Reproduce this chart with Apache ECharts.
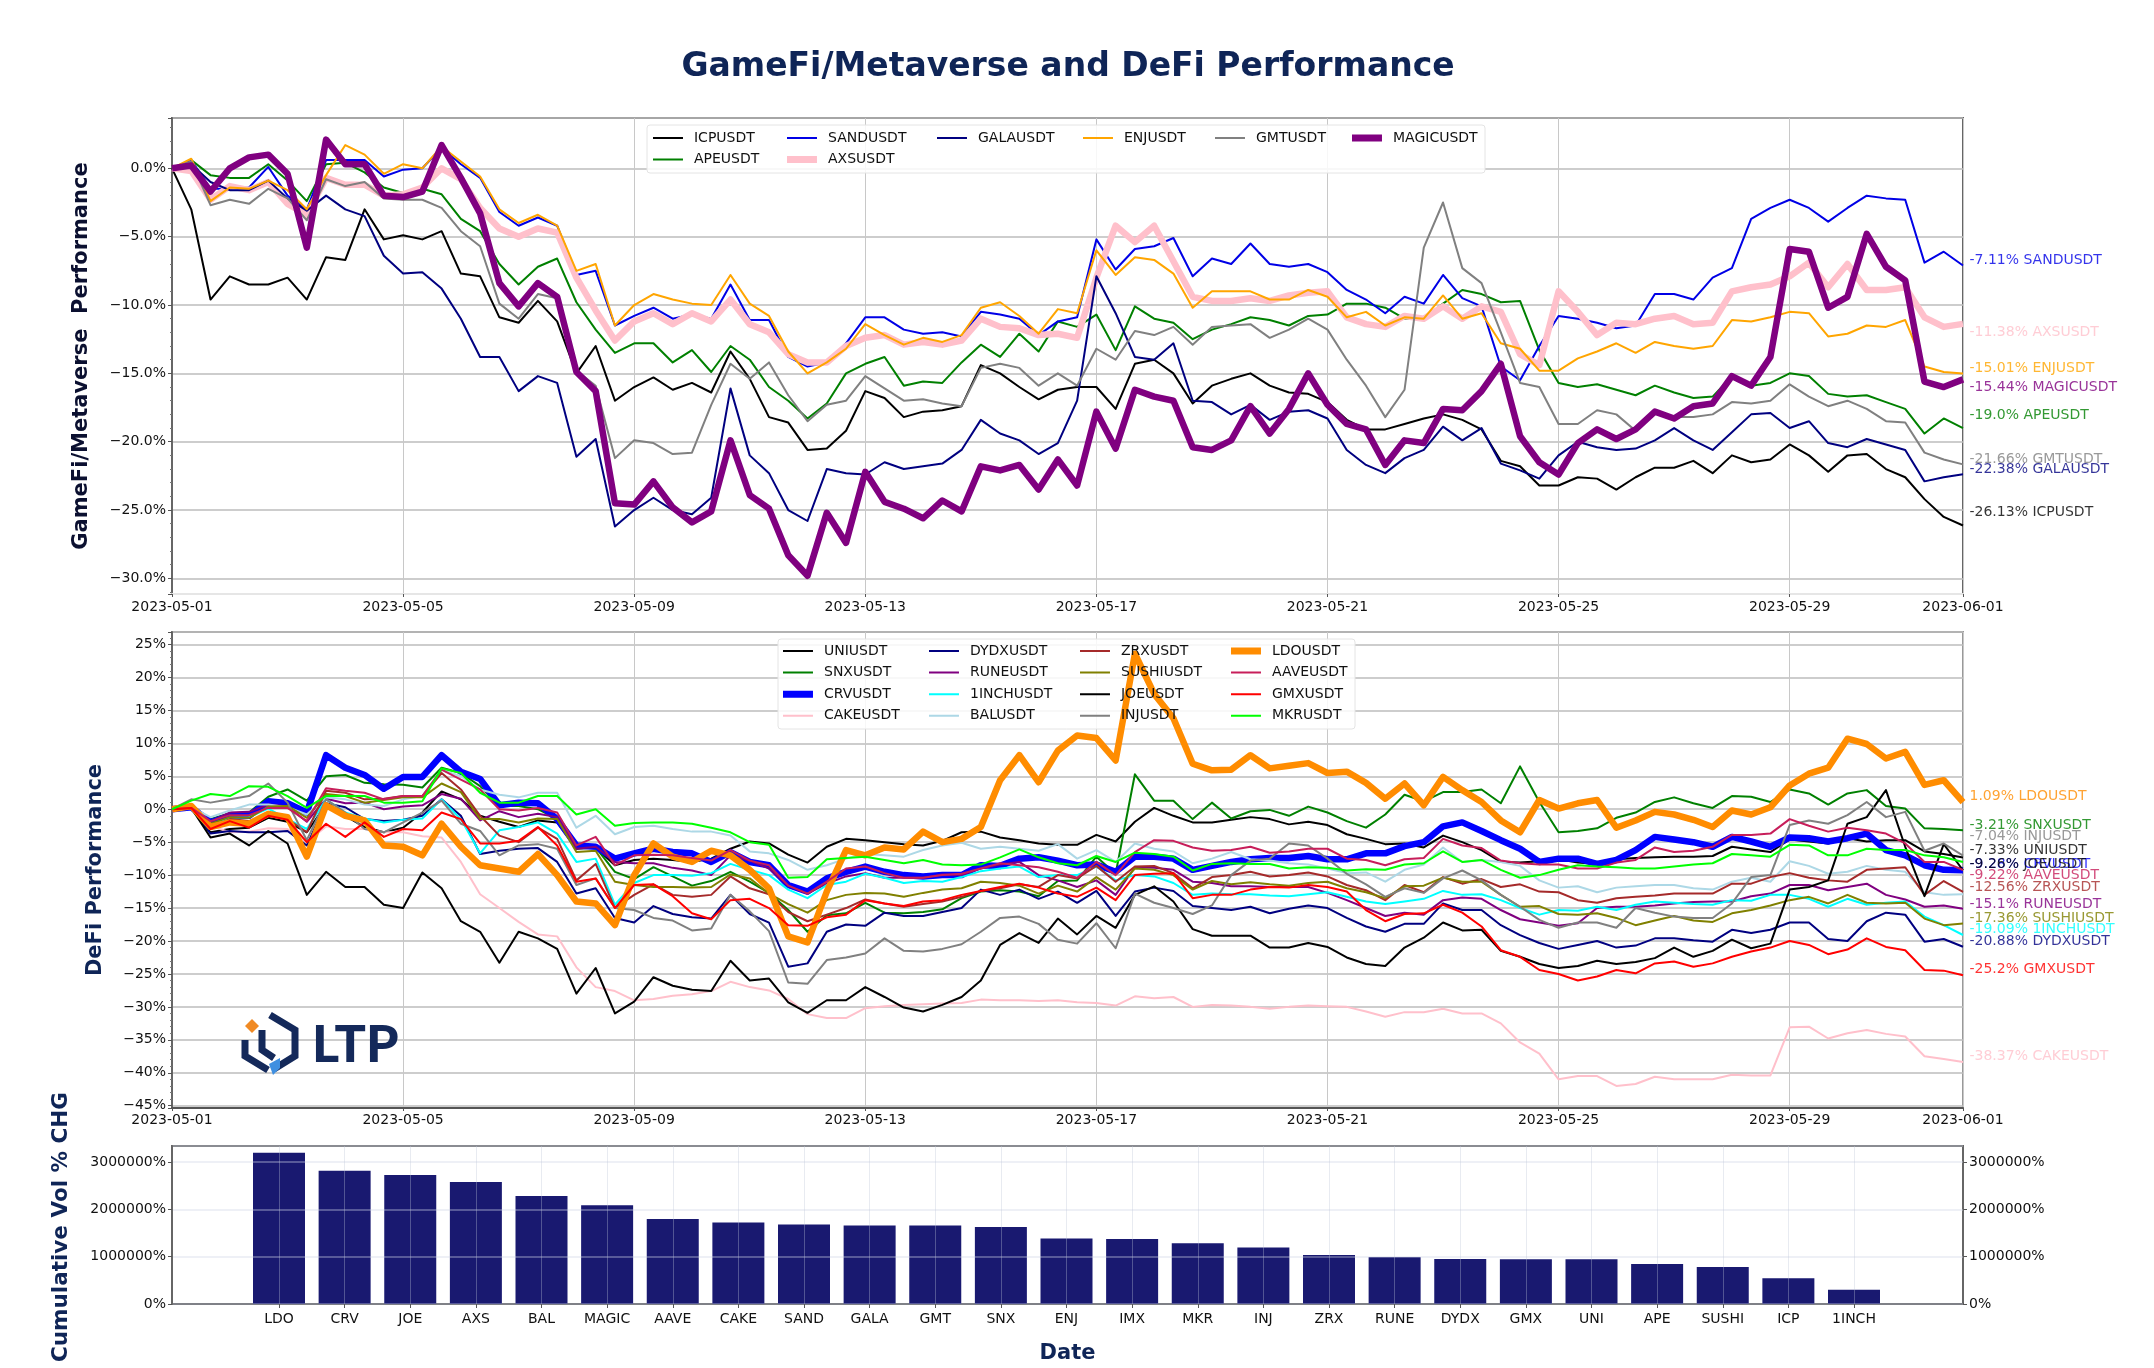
<!DOCTYPE html>
<html>
<head>
<meta charset="utf-8">
<title>GameFi/Metaverse and DeFi Performance</title>
<script src="https://cdn.jsdelivr.net/npm/echarts@6/dist/echarts.min.js"></script>
<style>
html,body{margin:0;padding:0;background:#fff;}
#chart{width:2154px;height:1368px;}
</style>
</head>
<body>
<div id="chart"></div>
<script>
// eight hour samples, one row per four days
var ICP = [0,-3.0,-9.6,-7.9,-8.5,-8.5,-8.0,-9.6,-6.5,-6.7,-3.0,-5.2,
-4.9,-5.2,-4.6,-7.7,-7.9,-10.9,-11.3,-9.7,-11.2,-15.0,-13.0,-17.0,
-16.0,-15.3,-16.2,-15.7,-16.4,-13.4,-15.4,-18.2,-18.6,-20.6,-20.5,-19.2,
-16.3,-16.8,-18.2,-17.8,-17.7,-17.4,-14.4,-15.0,-16.0,-16.9,-16.2,-16.0,
-16.0,-17.6,-14.3,-14.0,-15.0,-17.2,-15.9,-15.4,-15.0,-15.9,-16.4,-16.5,
-17.1,-18.4,-19.1,-19.1,-18.7,-18.3,-18.0,-18.4,-19.1,-21.4,-21.8,-23.2,
-23.2,-22.6,-22.7,-23.5,-22.6,-21.9,-21.9,-21.4,-22.3,-21.0,-21.5,-21.3,
-20.2,-21.0,-22.2,-21.0,-20.9,-22.0,-22.6,-24.2,-25.5,-26.13];
var APE = [0,0.6,-0.5,-0.7,-0.7,0.3,-0.9,-2.4,0.3,0.4,-0.3,-1.4,
-1.8,-1.5,-1.9,-3.7,-4.6,-7.0,-8.5,-7.2,-6.6,-9.8,-11.8,-13.5,
-12.8,-12.8,-14.2,-13.3,-14.9,-13.0,-14.0,-16.0,-17.0,-18.3,-17.2,-15.0,
-14.3,-13.8,-15.9,-15.6,-15.7,-14.2,-12.9,-13.8,-12.1,-13.4,-11.2,-11.6,
-10.7,-13.3,-10.1,-11.0,-11.3,-12.5,-11.8,-11.4,-10.9,-11.1,-11.5,-10.8,
-10.7,-9.9,-9.9,-10.2,-11.0,-11.0,-9.9,-8.9,-9.2,-9.8,-9.7,-13.3,
-15.7,-16.0,-15.8,-16.2,-16.6,-15.9,-16.4,-16.8,-16.7,-15.2,-15.9,-15.7,
-15.0,-15.2,-16.5,-16.7,-16.6,-17.1,-17.6,-19.4,-18.3,-19.0];
var SAND = [0,0.6,-1.5,-1.5,-1.4,0.1,-2.0,-3.0,0.6,0.6,0.6,-0.6,
-0.1,0,1.5,0.3,-0.7,-3.2,-4.2,-3.6,-4.2,-7.8,-7.5,-11.5,
-10.8,-10.2,-11.0,-10.7,-11.0,-8.5,-11.1,-11.1,-13.8,-14.5,-14.2,-12.8,
-10.9,-10.9,-11.8,-12.1,-12.0,-12.3,-10.5,-10.7,-11.0,-12.2,-11.2,-10.9,
-5.2,-7.4,-5.9,-5.7,-5.1,-7.9,-6.6,-7.0,-5.5,-7.0,-7.2,-7.0,
-7.6,-8.9,-9.6,-10.6,-9.4,-9.9,-7.8,-9.5,-10.1,-14.5,-15.5,-13.0,
-10.8,-11.0,-11.3,-11.7,-11.5,-9.2,-9.2,-9.6,-8.0,-7.3,-3.7,-2.9,
-2.3,-2.9,-3.9,-2.9,-2.0,-2.2,-2.3,-6.9,-6.1,-7.11];
var AXS = [0,-0.2,-2.3,-1.3,-1.6,-1.0,-2.6,-3.4,-0.7,-1.2,-1.2,-2.0,
-1.9,-1.4,0,-0.8,-2.9,-4.4,-5.0,-4.4,-4.7,-8.0,-10.4,-12.6,
-11.2,-10.6,-11.4,-10.6,-11.2,-9.6,-11.4,-12.0,-13.6,-14.2,-14.2,-13.0,
-12.4,-12.2,-12.9,-12.7,-12.9,-12.6,-11.0,-11.6,-11.7,-12.2,-12.1,-12.4,
-8.0,-4.2,-5.4,-4.2,-6.8,-9.4,-9.7,-9.7,-9.5,-9.7,-9.3,-9.1,
-9.0,-10.9,-11.4,-11.6,-10.8,-11.0,-10.1,-11.0,-10.1,-10.5,-13.6,-14.4,
-9.0,-10.5,-12.2,-11.3,-11.4,-11.0,-10.8,-11.4,-11.3,-9.0,-8.7,-8.5,
-7.9,-6.9,-8.7,-7.0,-8.9,-8.9,-8.7,-10.9,-11.6,-11.38];
var GALA = [0,0.3,-1.0,-1.6,-1.6,-0.9,-2.2,-3.1,-2.0,-3.0,-3.5,-6.4,
-7.7,-7.6,-8.8,-11.0,-13.8,-13.8,-16.3,-15.2,-15.7,-21.1,-19.8,-26.2,
-25.0,-24.1,-25.0,-25.3,-24.1,-16.1,-21.0,-22.3,-25.0,-25.8,-22.0,-22.3,
-22.4,-21.5,-22.0,-21.8,-21.6,-20.6,-18.4,-19.4,-19.9,-20.9,-20.1,-17.0,
-7.9,-10.6,-13.8,-14.0,-12.8,-17.0,-17.1,-18.0,-17.3,-18.4,-17.8,-17.7,
-18.3,-20.6,-21.7,-22.3,-21.2,-20.6,-18.9,-19.9,-19.0,-21.6,-22.1,-22.7,
-21.0,-20.0,-20.4,-20.6,-20.5,-19.9,-19.0,-19.9,-20.6,-19.3,-18.0,-17.9,
-19.0,-18.5,-20.1,-20.4,-19.8,-20.2,-20.6,-22.9,-22.6,-22.38];
var ENJ = [0,0.7,-2.4,-1.4,-1.5,-0.9,-1.6,-3.0,-0.5,1.7,1.0,-0.4,
0.3,0,1.6,0.5,-0.6,-3.0,-4.0,-3.4,-4.2,-7.5,-7.0,-11.5,
-10.0,-9.2,-9.6,-9.9,-10.0,-7.8,-9.9,-10.8,-13.4,-15.0,-14.2,-13.2,
-11.4,-12.2,-12.9,-12.4,-12.7,-12.2,-10.2,-9.8,-10.8,-12.1,-10.3,-10.6,
-6.0,-7.8,-6.5,-6.7,-7.7,-10.2,-9.0,-9.0,-9.0,-9.6,-9.6,-8.9,
-9.4,-10.9,-10.5,-11.5,-10.9,-11.0,-9.3,-11.0,-10.6,-12.8,-13.2,-14.8,
-14.8,-13.9,-13.4,-12.8,-13.5,-12.7,-13.0,-13.2,-13.0,-11.1,-11.2,-10.9,
-10.5,-10.6,-12.3,-12.1,-11.5,-11.6,-11.1,-14.5,-14.9,-15.01];
var GMT = [0,0.5,-2.7,-2.3,-2.6,-1.5,-2.2,-3.8,-0.8,-1.3,-1.0,-2.2,
-2.3,-2.3,-2.9,-4.6,-5.7,-9.9,-11.0,-9.2,-9.5,-14.8,-15.9,-21.2,
-19.9,-20.1,-20.9,-20.8,-17.3,-14.3,-15.4,-14.2,-16.6,-18.5,-17.3,-17.0,
-15.2,-16.1,-17.0,-16.9,-17.2,-17.4,-14.6,-14.3,-14.6,-15.9,-15.0,-15.9,
-13.2,-14.0,-11.9,-12.2,-11.6,-12.9,-11.6,-11.5,-11.4,-12.4,-11.8,-11.0,
-11.8,-14.0,-15.9,-18.2,-16.2,-5.8,-2.5,-7.3,-8.4,-12.0,-15.7,-16.0,
-18.7,-18.7,-17.7,-18.0,-19.2,-17.8,-18.2,-18.2,-18.0,-17.1,-17.2,-17.0,
-15.8,-16.7,-17.4,-17.0,-17.6,-18.5,-18.6,-20.8,-21.3,-21.66];
var MAGIC = [0,0.2,-1.7,0,0.8,1.0,-0.4,-5.8,2.1,0.3,0.3,-2.0,
-2.1,-1.7,1.7,-0.7,-3.3,-8.4,-10.1,-8.4,-9.4,-14.9,-16.3,-24.5,
-24.6,-22.9,-24.8,-25.9,-25.1,-19.9,-23.9,-24.9,-28.3,-29.8,-25.2,-27.4,
-22.2,-24.4,-24.9,-25.6,-24.3,-25.1,-21.8,-22.1,-21.7,-23.5,-21.3,-23.2,
-17.8,-20.5,-16.2,-16.7,-17.0,-20.4,-20.6,-19.9,-17.4,-19.4,-17.6,-15.0,
-17.3,-18.7,-19.1,-21.7,-19.9,-20.1,-17.6,-17.7,-16.3,-14.3,-19.6,-21.5,
-22.4,-20.1,-19.1,-19.8,-19.1,-17.8,-18.3,-17.4,-17.2,-15.2,-15.9,-13.8,
-5.9,-6.1,-10.2,-9.4,-4.8,-7.2,-8.2,-15.6,-16.0,-15.44];

var UNI = [0,0.1,-3.5,-3.0,-2.8,-1.3,-1.9,-3.5,0.7,-1.0,-2.7,-3.5,
-2.8,-0.5,2.7,1.5,-1.0,-1.9,-2.7,-1.7,-2.0,-6.0,-5.8,-8.5,
-7.7,-7.5,-7.7,-8.0,-7.5,-6.0,-4.9,-5.2,-6.9,-8.1,-5.7,-4.5,
-4.7,-5.0,-5.3,-5.5,-4.8,-3.5,-3.4,-4.3,-4.7,-5.2,-5.4,-5.4,
-3.9,-4.9,-1.9,0.2,-1.0,-2.0,-2.0,-1.6,-1.2,-1.5,-2.3,-1.9,
-2.4,-3.8,-4.5,-5.3,-5.2,-5.8,-4.0,-5.0,-6.2,-8.0,-8.1,-7.9,
-7.6,-8.1,-8.3,-7.6,-7.4,-7.3,-7.2,-7.2,-7.1,-5.7,-6.1,-6.5,
-4.6,-4.9,-5.2,-4.4,-4.9,-4.7,-4.7,-6.4,-6.8,-7.33];
var SNX = [0,0.5,-1.5,-0.6,-0.5,1.9,3.0,1.3,5.0,5.2,4.0,3.8,
3.7,3.3,6.3,5.5,3.5,0.5,0.5,0,-1.5,-5.5,-5.8,-9.5,
-10.6,-8.8,-10.2,-11.6,-10.9,-9.5,-11.0,-12.7,-15.3,-18.6,-16.1,-15.8,
-14.2,-15.7,-15.8,-15.6,-15.2,-13.5,-12.5,-12.3,-12.5,-13.2,-10.9,-10.8,
-7.2,-9.8,5.3,1.3,1.3,-1.5,1.0,-1.4,-0.3,-0.1,-1.0,0.4,
-0.5,-1.8,-2.8,-0.8,2.2,1.2,2.6,2.6,3.0,0.9,6.5,1.1,
-3.5,-3.3,-2.9,-1.3,-0.5,1.1,1.8,0.9,0.2,2.0,1.9,1.1,
3.0,2.4,0.7,2.4,2.9,0.5,0.1,-2.9,-3.0,-3.21];
var CRV = [0,0.3,-2.0,-1.0,-1.0,1.2,0.9,-0.5,8.2,6.3,5.2,3.1,
4.9,4.9,8.2,5.7,4.6,0.6,1.0,0.9,-1.5,-5.5,-5.7,-7.5,
-6.7,-6.0,-6.5,-6.7,-8.0,-6.5,-8.0,-8.5,-11.5,-12.5,-10.5,-9.5,
-8.7,-9.5,-10.0,-10.2,-10.0,-10.0,-8.5,-8.6,-7.5,-7.3,-7.8,-8.5,
-8.4,-9.5,-7.2,-7.2,-7.5,-9.2,-8.6,-8.0,-7.6,-7.4,-7.4,-7.1,
-7.6,-7.6,-6.7,-6.7,-5.6,-5.0,-2.6,-2.0,-3.3,-4.7,-6.0,-8.0,
-7.5,-7.5,-8.3,-7.7,-6.2,-4.2,-4.6,-5.0,-5.7,-4.2,-4.9,-5.7,
-4.3,-4.4,-4.9,-4.4,-3.7,-6.2,-7.0,-8.5,-9.2,-9.28];
var CAKE = [0,0.2,-2.5,-3.5,-3.4,-2.9,-3.0,-5.0,-2.6,-3.0,-3.0,-3.5,
-3.5,-4.1,-4.3,-8.0,-12.9,-15.0,-17.1,-19.0,-19.3,-24.0,-27.0,-27.6,
-29.0,-28.8,-28.3,-28.1,-27.6,-26.2,-27.0,-27.5,-28.8,-31.1,-31.7,-31.7,
-30.2,-29.9,-29.7,-29.6,-29.5,-29.4,-28.9,-29.0,-29.0,-29.1,-29.0,-29.3,
-29.4,-29.8,-28.4,-28.7,-28.5,-30.0,-29.7,-29.8,-30.0,-30.3,-30.0,-29.8,
-29.9,-30.0,-30.7,-31.5,-30.8,-30.8,-30.3,-31.0,-31.0,-32.5,-35.4,-37.1,
-41.0,-40.5,-40.5,-42.0,-41.7,-40.6,-41.0,-41.0,-41.0,-40.3,-40.4,-40.4,
-33.1,-33.0,-34.8,-34.0,-33.5,-34.1,-34.5,-37.5,-37.9,-38.37];
var DYDX = [0,0.2,-3.7,-3.3,-3.5,-3.5,-3.3,-5.5,0.9,0.3,-1.5,-1.8,
-1.6,-1.0,1.5,-1.0,-6.8,-6.3,-6.0,-5.9,-8.0,-12.8,-12.0,-16.5,
-17.2,-14.7,-15.9,-16.4,-16.6,-13.0,-15.9,-17.2,-23.9,-23.4,-18.6,-17.5,
-17.7,-15.7,-16.2,-16.2,-15.6,-15.0,-12.2,-13.0,-12.2,-13.6,-12.5,-14.2,
-12.4,-16.2,-12.5,-11.9,-12.4,-14.7,-15.0,-15.3,-14.8,-15.8,-15.1,-14.6,
-15.0,-16.5,-17.8,-18.6,-17.4,-17.4,-14.3,-15.3,-15.3,-17.6,-19.1,-20.3,
-21.2,-20.6,-20.0,-21.0,-20.7,-19.6,-19.6,-19.9,-20.1,-18.3,-18.8,-18.3,
-17.2,-17.2,-19.7,-20.0,-17.0,-15.7,-16.0,-20.1,-19.7,-20.88];
var RUNE = [0,0.2,-1.9,-0.5,-0.4,0.7,0.4,-1.9,1.6,0.9,1.0,0,
0.4,0.6,2.3,1.6,-1.7,-0.3,-1.2,-0.7,-1.2,-6.0,-5.7,-8.0,
-8.2,-8.2,-8.9,-9.3,-10.0,-7.0,-7.8,-9.0,-11.6,-12.8,-11.3,-10.2,
-9.7,-10.4,-10.4,-10.4,-9.9,-10.0,-9.0,-8.4,-8.0,-10.0,-10.8,-11.8,
-10.8,-13.0,-8.8,-8.9,-9.2,-11.0,-11.2,-11.7,-11.7,-11.8,-11.8,-11.8,
-12.7,-13.8,-15.0,-16.2,-15.7,-16.0,-13.8,-13.4,-13.6,-15.3,-16.7,-17.2,
-17.7,-17.3,-15.0,-14.8,-14.8,-14.6,-14.3,-14.1,-14.0,-14.0,-13.2,-12.8,
-11.5,-11.5,-12.3,-11.8,-11.3,-13.0,-13.7,-14.8,-14.6,-15.1];
var ONEINCH = [0,0.2,-2.5,-1.3,-1.2,0.1,-1.5,-3.0,1.5,-0.5,-1.4,-2.0,
-1.6,-1.4,1.5,-1.5,-6.7,-3.2,-2.7,-2.0,-3.7,-8.0,-7.5,-14.5,
-11.2,-10.0,-10.0,-10.1,-9.7,-8.3,-9.2,-10.0,-12.2,-13.5,-11.5,-11.0,
-9.8,-10.4,-11.2,-10.9,-11.0,-10.3,-9.4,-9.0,-8.7,-10.3,-10.0,-10.0,
-8.7,-10.8,-10.0,-10.2,-11.2,-13.0,-12.8,-12.9,-12.9,-13.1,-13.2,-12.9,
-12.6,-13.3,-14.0,-14.4,-14.0,-13.6,-12.4,-13.0,-12.9,-13.8,-15.0,-16.0,
-15.3,-15.4,-14.8,-15.3,-14.5,-14.0,-14.2,-14.4,-14.5,-13.8,-13.9,-13.0,
-13.0,-13.6,-14.8,-13.6,-14.5,-14.2,-14.0,-16.3,-17.6,-19.09];
var BAL = [0,0.3,-1.2,-0.2,0.7,0.7,0.3,-0.8,1.8,1.5,0.7,0.5,
1.5,2.0,6.0,5.0,3.0,2.2,1.8,2.5,2.5,-2.8,-1.0,-3.8,
-2.7,-2.5,-3.0,-3.4,-3.4,-4.0,-6.4,-6.7,-7.7,-9.2,-8.5,-7.5,
-6.8,-7.0,-7.2,-6.2,-5.5,-5.1,-6.0,-5.7,-6.0,-6.3,-5.3,-7.5,
-6.2,-8.0,-5.2,-6.0,-6.4,-8.2,-7.5,-6.5,-7.6,-7.8,-8.2,-8.4,
-9.0,-9.7,-9.6,-11.0,-9.2,-8.4,-5.8,-8.0,-7.7,-8.0,-8.6,-10.8,
-11.9,-11.7,-12.6,-11.9,-11.7,-11.5,-11.5,-12.0,-12.2,-11.0,-10.4,-11.0,
-7.9,-8.6,-9.8,-9.5,-8.6,-9.2,-9.5,-12.6,-13.0,-12.9];
var ZRX = [0,0.2,-2.8,-1.5,-1.8,-0.8,-1.5,-3.5,2.8,2.5,1.5,1.6,
2.0,2.0,5.5,3.0,-1.0,-4.0,-5.0,-2.8,-4.5,-10.8,-8.3,-15.0,
-13.0,-11.4,-13.0,-13.3,-13.0,-10.2,-12.0,-12.9,-15.6,-17.0,-16.0,-15.0,
-13.7,-14.3,-14.8,-14.4,-14.0,-13.3,-12.4,-12.0,-11.4,-11.8,-10.0,-10.5,
-8.6,-11.0,-8.7,-8.6,-9.7,-12.0,-10.3,-10.0,-9.5,-10.2,-10.0,-9.6,
-10.2,-11.5,-12.3,-13.8,-11.5,-12.6,-10.3,-11.3,-10.6,-11.8,-11.4,-12.5,
-12.6,-13.8,-14.2,-13.5,-13.3,-13.1,-12.8,-12.8,-12.8,-11.3,-11.3,-10.3,
-9.7,-10.4,-10.8,-11.0,-9.2,-9.0,-8.8,-13.0,-10.9,-12.56];
var SUSHI = [0,0.2,-2.2,-1.2,-1.3,0.4,0.5,-1.3,2.3,2.0,1.0,1.4,
1.8,1.8,3.9,2.6,-1.5,-1.5,-2.0,-1.4,-1.5,-6.5,-6.3,-11.0,
-11.5,-11.8,-11.8,-11.9,-11.8,-9.9,-10.5,-12.8,-14.4,-15.7,-13.8,-13.0,
-12.7,-12.8,-13.3,-12.7,-12.2,-12.0,-11.0,-11.2,-11.6,-12.8,-11.6,-12.5,
-10.3,-12.2,-9.0,-9.2,-10.0,-12.2,-10.9,-11.4,-11.1,-11.4,-11.6,-11.2,
-11.0,-12.0,-12.6,-13.5,-11.7,-11.6,-10.4,-11.0,-11.0,-13.0,-14.8,-14.7,
-15.9,-16.0,-15.8,-16.5,-17.6,-16.9,-16.2,-16.9,-17.1,-15.8,-15.3,-14.6,
-13.8,-13.3,-14.3,-13.0,-14.2,-14.3,-14.2,-16.6,-17.6,-17.36];
var JOE = [0,0.2,-4.3,-3.7,-5.5,-3.3,-5.2,-13.0,-9.5,-11.8,-11.8,-14.5,
-15.0,-9.6,-12.0,-17.0,-18.6,-23.3,-18.6,-19.6,-21.2,-28.0,-24.1,-31.0,
-29.2,-25.5,-26.8,-27.4,-27.6,-23.0,-26.0,-25.7,-29.3,-30.9,-29.0,-29.0,
-27.0,-28.5,-30.1,-30.7,-29.7,-28.5,-26.0,-20.6,-18.8,-20.3,-16.6,-19.0,
-16.2,-18.0,-13.0,-11.7,-14.0,-18.2,-19.2,-19.2,-19.2,-21.0,-21.0,-20.3,
-20.9,-22.5,-23.5,-23.8,-21.0,-19.5,-17.2,-18.4,-18.3,-21.5,-22.4,-23.5,
-24.1,-23.8,-23.0,-23.5,-23.2,-22.6,-21.0,-22.4,-21.5,-19.8,-21.1,-20.4,
-12.2,-11.8,-10.8,-2.2,-1.2,2.9,-5.7,-13.2,-5.3,-9.26];
var INJ = [0,1.5,1.0,1.5,2.0,3.9,1.0,-4.7,1.5,-0.5,-3.0,-3.5,
-2.0,-0.5,1.3,-2.2,-3.3,-7.0,-5.5,-5.3,-6.0,-11.5,-10.5,-15.0,
-15.3,-16.5,-16.9,-18.4,-18.1,-13.0,-15.5,-18.5,-26.3,-26.5,-22.9,-22.5,
-21.9,-19.6,-21.5,-21.6,-21.2,-20.5,-18.6,-16.5,-16.3,-17.4,-19.8,-20.4,
-17.3,-21.1,-12.8,-14.2,-15.0,-15.9,-14.6,-10.0,-7.8,-7.5,-5.2,-5.5,
-7.5,-9.8,-11.4,-13.3,-12.0,-12.7,-10.5,-9.3,-10.8,-13.0,-14.8,-16.8,
-18.0,-17.2,-17.2,-18.0,-15.0,-15.7,-16.3,-16.5,-16.5,-14.3,-10.3,-10.0,
-2.4,-1.7,-2.2,-0.9,1.1,-1.2,-0.4,-6.3,-5.2,-7.04];
var LDO = [0,0.5,-2.7,-2.0,-2.2,-0.7,-1.2,-7.2,0.6,-1.0,-1.7,-5.5,
-5.7,-7.0,-2.2,-5.7,-8.5,-9.0,-9.5,-6.8,-10.0,-14.0,-14.3,-17.6,
-10.0,-5.2,-7.2,-8.0,-6.3,-7.0,-9.2,-12.0,-19.3,-20.2,-12.5,-6.2,
-7.0,-5.8,-6.1,-3.4,-5.0,-4.5,-2.7,4.4,8.2,4.1,8.9,11.2,
10.8,7.4,23.6,17.5,13.8,6.9,5.9,6.0,8.2,6.2,6.6,7.0,
5.5,5.7,4.0,1.6,3.9,0.6,4.9,2.9,1.1,-1.7,-3.5,1.4,
0.1,0.9,1.4,-2.8,-1.7,-0.4,-0.8,-1.6,-2.7,-0.2,-0.8,0.3,
3.6,5.4,6.3,10.7,9.9,7.7,8.7,3.7,4.4,1.09];
var AAVE = [0,0.2,-1.8,-0.9,-0.9,0.2,0.2,-1.8,3.2,2.8,2.5,1.5,
2.0,2.0,6.0,4.5,3.0,0,-0.2,0.2,-0.5,-5.5,-4.2,-8.5,
-7.0,-6.9,-7.0,-7.4,-7.8,-6.2,-7.8,-8.5,-11.6,-12.8,-11.0,-9.0,
-8.7,-9.7,-10.4,-10.4,-10.0,-9.8,-9.0,-8.2,-8.5,-8.8,-9.5,-10.4,
-8.0,-10.0,-6.5,-4.7,-4.8,-5.8,-6.3,-6.2,-5.7,-6.6,-6.4,-6.0,
-6.0,-7.5,-7.7,-8.5,-7.6,-7.4,-4.5,-5.5,-5.9,-7.8,-8.2,-8.4,
-8.4,-9.0,-9.0,-8.1,-7.7,-5.8,-6.5,-6.3,-5.7,-3.9,-3.9,-3.7,
-1.5,-2.5,-3.4,-2.8,-3.2,-3.7,-5.2,-8.0,-8.0,-9.22];
var GMX = [0,0.2,-3.0,-1.8,-2.8,-1.0,-1.6,-5.0,-2.2,-4.2,-2.0,-4.2,
-3.0,-3.2,-0.5,-1.5,-5.2,-5.2,-4.8,-2.7,-5.5,-11.0,-10.5,-15.0,
-11.5,-11.4,-13.2,-15.8,-16.7,-13.8,-13.6,-15.0,-17.6,-17.7,-16.4,-16.0,
-13.8,-14.3,-14.7,-14.0,-13.8,-13.0,-12.4,-11.8,-11.3,-11.9,-12.8,-13.3,
-11.9,-13.8,-10.0,-9.8,-9.7,-13.5,-13.0,-13.0,-12.2,-11.8,-11.9,-11.5,
-11.8,-12.5,-15.3,-17.0,-15.9,-15.8,-14.5,-15.7,-17.8,-21.4,-22.4,-24.4,
-25.0,-26.0,-25.4,-24.4,-24.9,-23.4,-23.1,-23.9,-23.4,-22.4,-21.6,-21.0,
-20.0,-20.6,-22.0,-21.3,-19.6,-20.9,-21.4,-24.4,-24.5,-25.2];
var MKR = [0,1.3,2.3,2.0,3.5,3.4,2.0,0.2,2.0,2.0,2.0,1.0,
1.0,1.2,6.2,5.5,2.5,1.0,1.0,2.0,2.0,-0.8,0,-2.5,
-2.1,-2.0,-2.0,-2.2,-2.8,-3.5,-5.0,-5.4,-10.4,-10.3,-7.6,-7.4,
-7.2,-7.7,-8.2,-7.7,-8.4,-8.5,-8.4,-7.3,-6.1,-7.3,-8.2,-8.5,
-7.1,-8.0,-6.6,-6.8,-7.2,-9.3,-8.3,-8.2,-8.3,-8.3,-9.0,-8.8,
-8.9,-9.3,-9.1,-9.2,-8.4,-8.2,-6.4,-8.0,-7.7,-9.2,-10.4,-10.0,
-9.2,-8.5,-8.7,-8.8,-9.0,-9.0,-8.7,-8.4,-8.2,-6.8,-7.0,-7.2,
-5.4,-5.5,-7.0,-7.0,-6.0,-6.2,-6.2,-7.0,-7.3,-8.0];

var topNames = ["ICPUSDT","APEUSDT","SANDUSDT","AXSUSDT","GALAUSDT","ENJUSDT","GMTUSDT","MAGICUSDT"];
var topValues = [ICP,APE,SAND,AXS,GALA,ENJ,GMT,MAGIC];
var topColors = ["#000000","#008000","#0000e6","#ffc0cb","#000080","#ffa500","#808080","#800080"];
var topWidths = [2,2,2,6.5,2,2,2,6.5];
// where the end of line notes sit, read in percent on the axis
var topNoteText = ["-26.13% ICPUSDT","-19.0% APEUSDT","-7.11% SANDUSDT","-11.38% AXSUSDT","-22.38% GALAUSDT","-15.01% ENJUSDT","-21.66% GMTUSDT","-15.44% MAGICUSDT"];
var topNoteAt = [-25.2,-18.1,-6.71,-12.0,-22.0,-14.6,-21.3,-16.05];

var midNames = ["UNIUSDT","SNXUSDT","CRVUSDT","CAKEUSDT","DYDXUSDT","RUNEUSDT","1INCHUSDT","BALUSDT","ZRXUSDT","SUSHIUSDT","JOEUSDT","INJUSDT","LDOUSDT","AAVEUSDT","GMXUSDT","MKRUSDT"];
var midValues = [UNI,SNX,CRV,CAKE,DYDX,RUNE,ONEINCH,BAL,ZRX,SUSHI,JOE,INJ,LDO,AAVE,GMX,MKR];
var midColors = ["#000000","#008000","#0000ff","#ffc0cb","#000080","#800080","#00ffff","#add8e6","#a52a2a","#808000","#000000","#808080","#ff8c00","#c71e5a","#ff0000","#00ff00"];
var midWidths = [2,2,6.5,2,2,2,2,2,2,2,2,2,6.5,2,2,2];
var midNoteText = ["-7.33% UNIUSDT","-3.21% SNXUSDT","-9.28% CRVUSDT","-38.37% CAKEUSDT","-20.88% DYDXUSDT","-15.1% RUNEUSDT","-19.09% 1INCHUSDT",null,"-12.56% ZRXUSDT","-17.36% SUSHIUSDT","-9.26% JOEUSDT","-7.04% INJUSDT","1.09% LDOUSDT","-9.22% AAVEUSDT","-25.2% GMXUSDT",null];
var midNoteAt = [-6.3,-2.4,-8.3,-37.5,-20.0,-14.5,-18.2,null,-11.8,-16.5,-8.3,-4.1,2.0,-10.0,-24.3,null];

var volCoins = ["LDO","CRV","JOE","AXS","BAL","MAGIC","AAVE","CAKE","SAND","GALA","GMT","SNX","ENJ","IMX","MKR","INJ","ZRX","RUNE","DYDX","GMX","UNI","APE","SUSHI","ICP","1INCH"];
var volChange = [3197000,2817000,2725000,2577000,2282000,2085000,1796000,1725000,1683000,1662000,1662000,1627000,1387000,1373000,1282000,1197000,1035000,993000,951000,944000,944000,845000,782000,542000,303000];

var dates = [];
for(var t=0;t<94;t++){
	var d = new Date(Date.UTC(2023,4,1)+t*8*3600*1000);
	dates.push(d.toISOString().slice(0,16).replace("T"," "));
}

var FONT = "DejaVu Sans";
var NAVY = "#0f2557";
var TEXT = "#111111";
// legend samples, a thin or a thick bar in a 30x14 box
var THIN_ICON = "path://M0 0h.01v.01h-.01zM30 14h.01v.01h-.01zM0 6H30V8H0z";
var THICK_ICON = "path://M0 0h.01v.01h-.01zM30 14h.01v.01h-.01zM0 3.5H30V10.5H0z";
var THICK_LINES = ["AXSUSDT","MAGICUSDT","CRVUSDT","LDOUSDT"];

function showDate(i){
	return (i%12==0 && i<90) || i==93;
}
function dateAxis(gridIndex,margin){
	return {
		type:"category",gridIndex:gridIndex,data:dates,boundaryGap:false,
		axisLine:{onZero:false,lineStyle:{color:gridIndex==0?"#e6e6e6":"#555555",width:2}},
		axisTick:{interval:showDate,length:3,lineStyle:{color:"#555555"}},
		axisLabel:{interval:showDate,margin:margin,fontFamily:FONT,fontSize:14,color:TEXT,showMinLabel:true,showMaxLabel:true,
			formatter:function(v){return v.slice(0,10);}},
		splitLine:{show:true,interval:showDate,lineStyle:{color:"#c8c8c8",width:1}}
	};
}
function percentAxis(gridIndex,min,max,splits,name,nameGap,nameColor,formatter){
	return {
		type:"value",gridIndex:gridIndex,min:min,max:max,splitNumber:splits,
		name:name,nameLocation:"middle",nameGap:nameGap,
		nameTextStyle:{fontFamily:FONT,fontWeight:"bold",fontSize:21,color:nameColor},
		axisLine:{show:true,lineStyle:{color:"#666666",width:2}},
		axisTick:{show:true,length:4,lineStyle:{color:"#555555"}},
		minorTick:{show:true,splitNumber:5,length:2,lineStyle:{color:"#777777"}},
		axisLabel:{margin:6,fontFamily:FONT,fontSize:14,color:TEXT,showMinLabel:false,showMaxLabel:false,formatter:formatter},
		splitLine:{show:true,lineStyle:{color:"#bdbdbd",width:1.5}}
	};
}
function lineSeries(names,values,colors,widths,axisIndex){
	return names.map(function(name,i){
		return {
			name:name,type:"line",xAxisIndex:axisIndex,yAxisIndex:axisIndex,data:values[i],
			symbol:"none",smooth:false,silent:true,
			lineStyle:{color:colors[i],width:widths[i],join:"round"},itemStyle:{color:colors[i]}
		};
	});
}
// end of line notes, one invisible point each so they stay on the axis scale
function noteSeries(texts,at,colors,axisIndex){
	var list = [];
	texts.forEach(function(text,i){
		if(text==null) return;
		list.push({
			type:"scatter",xAxisIndex:axisIndex,yAxisIndex:axisIndex,symbolSize:1,silent:true,z:6,
			itemStyle:{color:"transparent"},
			data:[[dates[93],at[i]]],
			label:{show:true,position:"right",distance:6,fontFamily:FONT,fontSize:14,color:colors[i],formatter:text}
		});
	});
	return list;
}
function legendColumn(names,left,top){
	return {
		data:names.map(function(name){
			return {name:name,icon:THICK_LINES.indexOf(name)>=0?THICK_ICON:THIN_ICON};
		}),
		left:left,top:top,orient:"vertical",selectedMode:false,z:5,padding:0,
		itemWidth:30,itemHeight:14,itemGap:7.6,
		textStyle:{fontFamily:FONT,fontSize:14,color:TEXT,padding:[0,0,0,6]}
	};
}

var pct1 = function(v){return (v<0?"\u2212":"")+Math.abs(v).toFixed(1)+"%";};
var pct0 = function(v){return (v<0?"\u2212":"")+Math.abs(v)+"%";};
var pctVol = function(v){return v+"%";};

var volMax = 3340000;
var xAxes = [dateAxis(0,6),dateAxis(1,5),
	{type:"value",gridIndex:2,min:0,max:1,name:"Date",nameLocation:"middle",nameGap:39,
		nameTextStyle:{fontFamily:FONT,fontWeight:"bold",fontSize:21,color:NAVY},
		axisLine:{show:true,lineStyle:{color:"#555555",width:2}},axisTick:{show:false},axisLabel:{show:false},splitLine:{show:false}},
	{type:"category",gridIndex:3,data:volCoins,boundaryGap:false,z:3,
		axisLine:{show:false},axisTick:{show:true,length:4,interval:0,lineStyle:{color:"#555555"}},
		axisLabel:{interval:0,margin:8,fontFamily:FONT,fontSize:14,color:TEXT},
		splitLine:{show:true,interval:0,lineStyle:{color:"rgba(190,198,215,0.35)",width:1}}}
];
var volAxis = percentAxis(2,0,volMax,3,"Cumulative Vol % CHG",100,NAVY,pctVol);
volAxis.minorTick = {show:false};
volAxis.z = 3;
volAxis.axisLabel.showMinLabel = true;
volAxis.nameTextStyle.fontSize = 21.5;
volAxis.nameTextStyle.padding = [0,4,0,0];
volAxis.splitLine.lineStyle = {color:"rgba(205,212,228,0.35)",width:2};
var volAxisRight = {type:"value",gridIndex:2,min:0,max:volMax,splitNumber:3,position:"right",
	axisLine:{show:true,lineStyle:{color:"#666666",width:2}},axisTick:{show:true,length:4,lineStyle:{color:"#555555"}},
	axisLabel:{margin:6,fontFamily:FONT,fontSize:14,color:TEXT,showMaxLabel:false,formatter:pctVol},splitLine:{show:false}};
var yAxes = [
	percentAxis(0,-31.14,3.68,7,"GameFi/Metaverse  Performance",80,"#0b1030",pct1),
	percentAxis(1,-45.35,26.9,14,"DeFi Performance",66,NAVY,pct0),
	volAxis,
	{type:"value",gridIndex:3,min:0,max:volMax,show:false},
	volAxisRight
];

var series = []
	.concat(lineSeries(topNames,topValues,topColors,topWidths,0))
	.concat(lineSeries(midNames,midValues,midColors,midWidths,1))
	.concat(noteSeries(topNoteText,topNoteAt,topColors,0))
	.concat(noteSeries(midNoteText,midNoteAt,midColors,1));
series.push({
	name:"Cumulative Vol",type:"bar",xAxisIndex:3,yAxisIndex:3,data:volChange,barWidth:52,clip:false,silent:true,
	itemStyle:{color:"#191970"}
});

var panelFill = {fill:"rgba(255,255,255,0.85)",stroke:"#e4e4e4",lineWidth:1};
var logoLine = {fill:"none",stroke:"#14295a",lineWidth:7,lineJoin:"miter"};

var myChart = echarts.init(document.getElementById("chart"),null,{renderer:"canvas"});
myChart.setOption({
	animation:false,
	backgroundColor:"#ffffff",
	title:{
		text:"GameFi/Metaverse and DeFi Performance",left:1063,top:46,textAlign:"center",
		textStyle:{fontFamily:FONT,fontWeight:"bold",fontSize:33,color:NAVY}
	},
	grid:[
		{left:172,right:191,top:118,bottom:774,show:true,borderColor:"#666666",borderWidth:2,outerBoundsMode:"none"},
		{left:172,right:191,top:632,bottom:260,show:true,borderColor:"#999999",borderWidth:2,outerBoundsMode:"none"},
		{left:172,right:191,top:1146,bottom:64,show:true,borderColor:"#666666",borderWidth:2,outerBoundsMode:"none"},
		{left:279,width:1575,top:1146,bottom:64,outerBoundsMode:"none"}
	],
	xAxis:xAxes,
	yAxis:yAxes,
	legend:[
		legendColumn(["ICPUSDT","APEUSDT"],653,131),
		legendColumn(["SANDUSDT","AXSUSDT"],787,131),
		legendColumn(["GALAUSDT"],937,131),
		legendColumn(["ENJUSDT"],1083,131),
		legendColumn(["GMTUSDT"],1215,131),
		legendColumn(["MAGICUSDT"],1352,131),
		legendColumn(["UNIUSDT","SNXUSDT","CRVUSDT","CAKEUSDT"],783,644),
		legendColumn(["DYDXUSDT","RUNEUSDT","1INCHUSDT","BALUSDT"],929,644),
		legendColumn(["ZRXUSDT","SUSHIUSDT","JOEUSDT","INJUSDT"],1080,644),
		legendColumn(["LDOUSDT","AAVEUSDT","GMXUSDT","MKRUSDT"],1231,644)
	],
	series:series,
	graphic:[
		{type:"rect",z:3,shape:{x:647,y:125,width:838,height:48,r:3},style:panelFill,silent:true},
		{type:"rect",z:3,shape:{x:778,y:639,width:577,height:90,r:3},style:panelFill,silent:true},
		// LTP logo
		{type:"polyline",z:4,shape:{points:[[270,1015],[295,1030],[295,1056],[274,1069]]},style:logoLine,silent:true},
		{type:"polyline",z:4,shape:{points:[[245,1040],[245,1056],[268,1070]]},style:logoLine,silent:true},
		{type:"polyline",z:4,shape:{points:[[262,1030],[262,1050],[274,1058]]},style:logoLine,silent:true},
		{type:"polygon",z:4,shape:{points:[[252,1019],[259,1026],[252,1033],[245,1026]]},style:{fill:"#f08a24"},silent:true},
		{type:"polygon",z:4,shape:{points:[[269,1064],[280,1058],[280,1068],[273,1075]]},style:{fill:"#3f8fe0"},silent:true},
		{type:"text",z:4,left:312,top:1019,style:{text:"LTP",fontFamily:"Lato",fontWeight:900,fontSize:52,fill:"#14295a"},silent:true}
	]
});
</script>
</body>
</html>
